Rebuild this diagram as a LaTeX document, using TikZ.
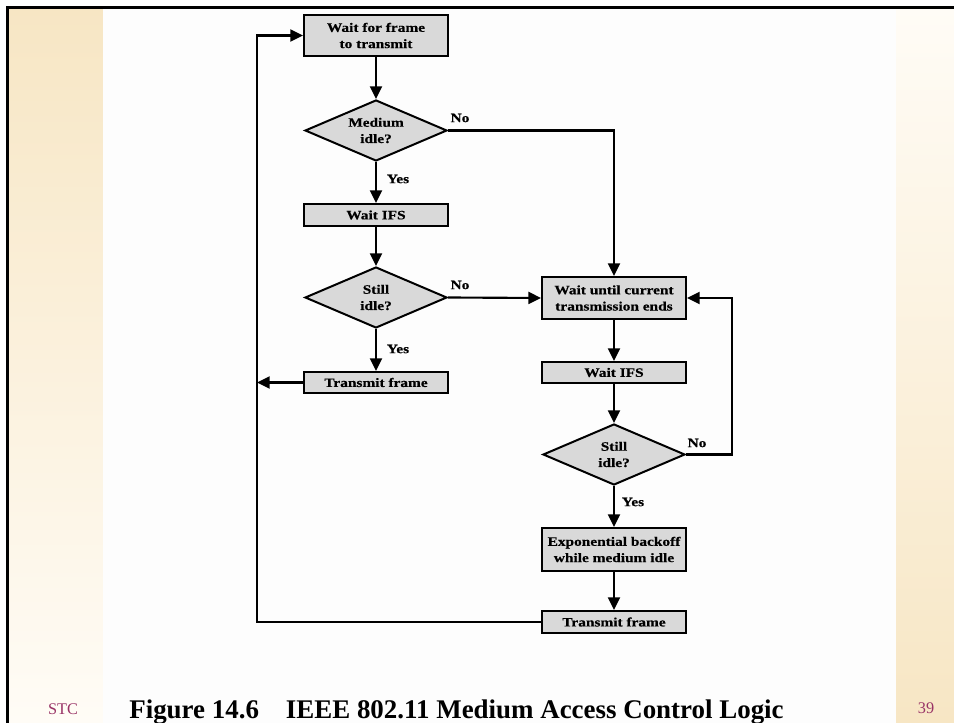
\documentclass[tikz,border=0pt]{standalone}
\usepackage{fontspec}
\setmainfont{Liberation Serif}
\newfontfamily\figfont[FakeStretch=1.2,FakeBold=0.5]{Liberation Serif}
\usetikzlibrary{shapes.geometric,arrows.meta}

\definecolor{beige}{RGB}{247,230,196}
\definecolor{paleend}{RGB}{255,252,246}
\definecolor{paper}{RGB}{253,253,253}
\definecolor{boxgray}{RGB}{217,217,217}
\definecolor{slidepurple}{RGB}{153,51,102}

\begin{document}
\begin{tikzpicture}[x=0.75pt,y=-0.75pt,
  figtext/.style={font={\figfont\bfseries\fontsize{9.6pt}{12.2pt}\selectfont}, align=center},
  procbox/.style={figtext, draw=black, fill=boxgray, line width=1.5pt,
    minimum width=108pt, inner sep=0pt},
  decision/.style={figtext, diamond, draw=black, fill=boxgray, line width=1.5pt,
    aspect=2.3, inner sep=0pt, minimum width=106.5pt, minimum height=45.75pt},
  branchlabel/.style={figtext},
  flow/.style={line width=1.6pt, -{Triangle[length=9.5pt,width=9pt]}}
]
% page and background
\useasboundingbox (0,0) rectangle (954,723);
\fill[white] (0,0) rectangle (954,723);
\shade[top color=beige, bottom color=paleend] (8,8) rectangle (103,723);
\shade[top color=paleend, bottom color=beige] (896,8) rectangle (954,723);
\fill[paper] (103,8) rectangle (896,723);
\draw[line width=1.6pt] (7.5,723) -- (7.5,7.5) -- (954,7.5);

% left column
\node[procbox, minimum height=30.75pt] (wait) at (376,35.5) {Wait for frame\\to transmit};
\node[decision] (medidle) at (376,130.5) {Medium\\idle?};
\node[procbox, minimum height=16.5pt] (ifsA) at (376,215) {Wait IFS};
\node[decision] (stillA) at (376,297.5) {Still\\idle?};
\node[procbox, minimum height=15.75pt] (txA) at (376,382.5) {Transmit frame};

% right column
\node[procbox, minimum height=31.5pt] (busy) at (614,298) {Wait until current\\transmission ends};
\node[procbox, minimum height=15.75pt] (ifsB) at (614,372.5) {Wait IFS};
\node[decision] (stillB) at (614,454.5) {Still\\idle?};
\node[procbox, minimum height=32.25pt] (backoff) at (614,549.5) {Exponential backoff\\while medium idle};
\node[procbox, minimum height=16.5pt] (txB) at (614,622) {Transmit frame};

% loop coordinates
\coordinate (loopL) at (257,35.5);
\coordinate (loopR) at (732,454.5);

% connectors
\draw[flow] (wait) -- (medidle);
\draw[flow] (medidle) -- (ifsA);
\draw[flow] (ifsA) -- (stillA);
\draw[flow] (stillA) -- (txA);
\draw[flow] (stillA.east) -- (busy.west);
\draw[flow] (medidle.east) -| (busy.north);
\draw[flow] (txA.west) -- (txA.west -| loopL);
\draw[flow] (txB.west) -| (loopL) -- (wait.west);
\draw[flow] (busy) -- (ifsB);
\draw[flow] (ifsB) -- (stillB);
\draw[flow] (stillB) -- (backoff);
\draw[flow] (backoff) -- (txB);
\draw[flow] (stillB.east) -- (loopR) |- (busy.east);

% branch labels
\node[branchlabel] (noA) at (460,118) {No};
\node[branchlabel] (yesA) at (398,179) {Yes};
\node[branchlabel] (noB) at (460,285) {No};
\node[branchlabel] (yesB) at (398,349) {Yes};
\node[branchlabel] (noC) at (697,443) {No};
\node[branchlabel] (yesC) at (633,502) {Yes};

% footer
\node[anchor=base, font={\bfseries\fontsize{20.2pt}{24pt}\selectfont}] (caption) at (456.5,718)
  {Figure 14.6\hspace{1em}IEEE 802.11 Medium Access Control Logic};
\node[anchor=base, text=slidepurple, font={\fontsize{12.2pt}{14pt}\selectfont}] (stc) at (63,714) {STC};
\node[anchor=base, text=slidepurple, font={\fontsize{12.2pt}{14pt}\selectfont}] (pageno) at (926,713) {39};
\end{tikzpicture}
\end{document}
